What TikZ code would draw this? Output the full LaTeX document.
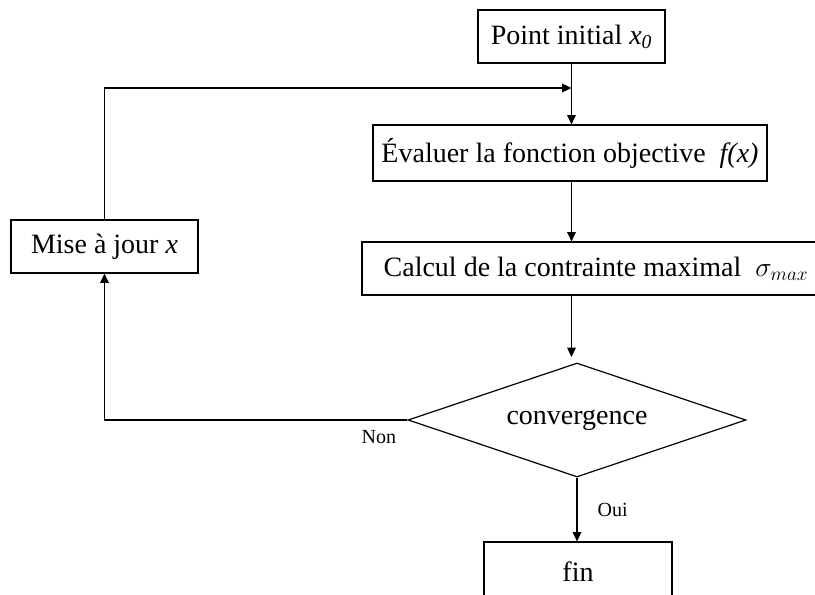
\documentclass[tikz,border=0pt]{standalone}
\usepackage{fontspec}
\setmainfont{Liberation Serif}
\usetikzlibrary{arrows.meta}
\usetikzlibrary{shapes.geometric}

\tikzset{
  box/.style={draw, line width=0.9pt, inner sep=0pt, font=\fontsize{21}{24}\selectfont},
  choice/.style={diamond, aspect=2.96, draw, line width=0.9pt, inner sep=0pt, font=\fontsize{21}{24}\selectfont},
  tag/.style={font=\fontsize{15}{17}\selectfont, inner sep=1pt}
}

\begin{document}
\begin{tikzpicture} [x=0.75pt, y=-0.75pt, line width=0.9pt, >={Triangle[length=7pt, width=6.5pt]}]
\useasboundingbox (0,0) rectangle (815,595);
\clip (0,0) rectangle (815,595);
\node[box, minimum width=140.25pt, minimum height=39.75pt] (init) at (571.5,36.5) {Point initial \textit{x}\textsubscript{\textit{0}}};
\node[box, minimum width=295.5pt, minimum height=42pt] (eval) at (570,153) {Évaluer la fonction objective \ \textit{f(x)}};
\node[box, minimum width=351pt, minimum height=39.75pt] (calc) at (596,268.5) {Calcul de la contrainte maximal \ $\sigma_{max}$};
\node[box, minimum width=140.25pt, minimum height=39.75pt] (mise) at (104.5,246.5) {Mise à jour \textit{x}};
\node[choice, minimum width=253.5pt, minimum height=85.5pt] (conv) at (577,420) {convergence};
\node[box, minimum width=141pt, minimum height=45pt] (fin) at (578,572) {fin};
\coordinate (loop) at (571.5,88);
\coordinate (convin) at (571.5,357);
% liaisons
\draw[->] (init.south) -- (init.south |- eval.north);
\draw[->] (init.south |- eval.south) -- (init.south |- calc.north);
\draw[->] (init.south |- calc.south) -- (convin);
\draw[->] (conv.south) -- (conv.south |- fin.north) node[tag, midway, right, xshift=14pt] {Oui};
\draw[->] (conv.west) node[tag, below left, xshift=-7pt, yshift=-6pt] {Non} -- (mise.south |- conv.west) -- (mise.south);
\draw[->] (mise.north) -- (mise.north |- loop) -- (loop);
\end{tikzpicture}
\end{document}
